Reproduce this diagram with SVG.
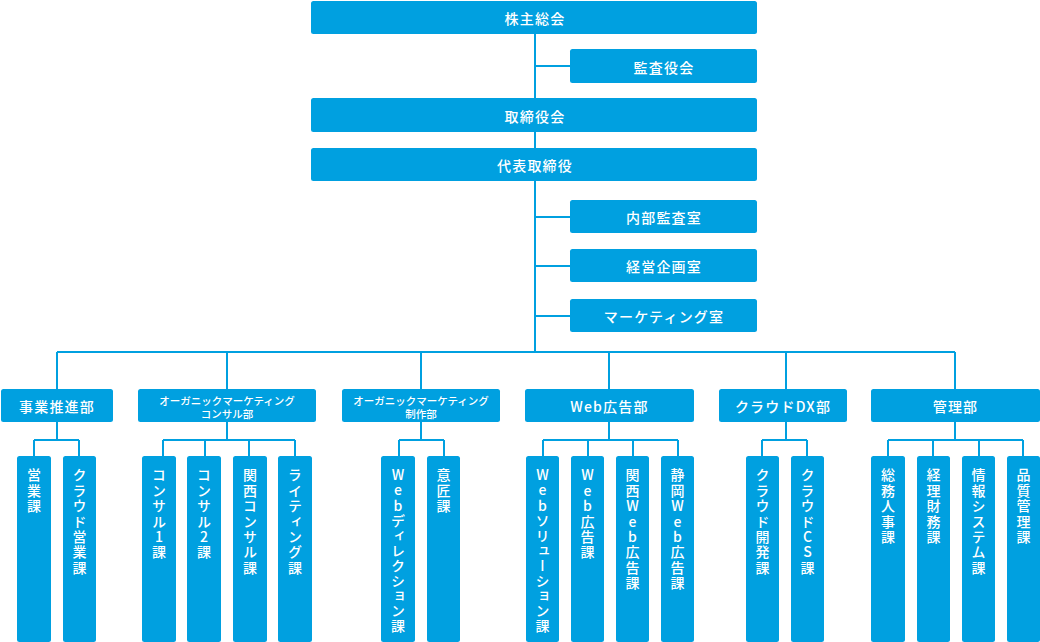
<svg xmlns="http://www.w3.org/2000/svg" width="1040" height="642" viewBox="0 0 1040 642">
<style>
.box{fill:#00a0e0}
.ln{stroke:#00a0e0;stroke-width:2;fill:none}
text{font-family:"Noto Sans CJK JP","Noto Sans",sans-serif;fill:#fff;font-weight:500}
.h{font-size:14px;letter-spacing:1.2px;text-anchor:middle;dominant-baseline:central}
.s{font-size:10.5px;text-anchor:middle;dominant-baseline:central}
.v{font-size:14px;letter-spacing:1.4px;writing-mode:vertical-rl;text-orientation:upright;text-anchor:start}
</style>
<rect width="1040" height="642" fill="#fff"/>
<g id="connectors" class="ln">
<path d="M535 34V352M535 66H570M535 217H570M535 266H570M535 316H570"/>
<path d="M57 352H955M57 352V389M227 352V389M421 352V389M609 352V389M786 352V389M955 352V389"/>
<path d="M57 422V440M34 440H79M34 440V456M79 440V456"/>
<path d="M227 422V440M163 440H295M163 440V456M205 440V456M249 440V456M295 440V456"/>
<path d="M421 422V440M399 440H444M399 440V456M444 440V456"/>
<path d="M609 422V440M543 440H678M543 440V456M588 440V456M633 440V456M678 440V456"/>
<path d="M786 422V440M762 440H807M762 440V456M807 440V456"/>
<path d="M955 422V440M888 440H1023M888 440V456M933 440V456M979 440V456M1023 440V456"/>
</g>
<g id="n-kabunushi"><rect class="box" x="311" y="1" width="446" height="33" rx="2.5"/><text class="h" x="535" y="18">株主総会</text></g>
<g id="n-kansayaku"><rect class="box" x="570" y="49" width="187" height="34" rx="2.5"/><text class="h" x="664" y="66.5">監査役会</text></g>
<g id="n-torishimariyaku"><rect class="box" x="311" y="98" width="446" height="34" rx="2.5"/><text class="h" x="535" y="115.5">取締役会</text></g>
<g id="n-daihyo"><rect class="box" x="311" y="148" width="446" height="33" rx="2.5"/><text class="h" x="535" y="165">代表取締役</text></g>
<g id="n-naibu"><rect class="box" x="570" y="200" width="187" height="33" rx="2.5"/><text class="h" x="664" y="217">内部監査室</text></g>
<g id="n-keiei"><rect class="box" x="570" y="249" width="187" height="33" rx="2.5"/><text class="h" x="664" y="266">経営企画室</text></g>
<g id="n-marketing"><rect class="box" x="570" y="299" width="187" height="33" rx="2.5"/><text class="h" x="664" y="316">マーケティング室</text></g>

<g id="d-jigyo"><rect class="box" x="1" y="389" width="112" height="33" rx="2.5"/><text class="h" x="57" y="406">事業推進部</text></g>
<g id="d-consul"><rect class="box" x="138" y="389" width="178" height="33" rx="2.5"/><text class="s" x="227" y="400">オーガニックマーケティング<tspan x="227" dy="12.5">コンサル部</tspan></text></g>
<g id="d-seisaku"><rect class="box" x="342" y="389" width="158" height="33" rx="2.5"/><text class="s" x="421" y="400">オーガニックマーケティング<tspan x="421" dy="12.5">制作部</tspan></text></g>
<g id="d-web"><rect class="box" x="525" y="389" width="169" height="33" rx="2.5"/><text class="h" x="609.5" y="406">Web広告部</text></g>
<g id="d-dx"><rect class="box" x="719" y="389" width="128" height="33" rx="2.5"/><text class="h" x="783" y="406">クラウドDX部</text></g>
<g id="d-kanri"><rect class="box" x="871" y="389" width="169" height="33" rx="2.5"/><text class="h" x="955.5" y="406">管理部</text></g>

<g id="c-eigyo"><rect class="box" x="17" y="456" width="34" height="186" rx="2.5"/><text class="v" x="34" y="468">営業課</text></g>
<g id="c-cloud-eigyo"><rect class="box" x="63" y="456" width="33" height="186" rx="2.5"/><text class="v" x="79.5" y="468">クラウド営業課</text></g>
<g id="c-consul1"><rect class="box" x="142" y="456" width="34" height="186" rx="2.5"/><text class="v" x="159" y="468">コンサル1課</text></g>
<g id="c-consul2"><rect class="box" x="187" y="456" width="34" height="186" rx="2.5"/><text class="v" x="204" y="468">コンサル2課</text></g>
<g id="c-kansai-consul"><rect class="box" x="233" y="456" width="34" height="186" rx="2.5"/><text class="v" x="250" y="468">関西コンサル課</text></g>
<g id="c-writing"><rect class="box" x="278" y="456" width="34" height="186" rx="2.5"/><text class="v" x="295" y="468">ライティング課</text></g>
<g id="c-web-direction"><rect class="box" x="381" y="456" width="34" height="186" rx="2.5"/><text class="v" x="398" y="468" style="letter-spacing:1.1px">Webディレクション課</text></g>
<g id="c-isho"><rect class="box" x="427" y="456" width="33" height="186" rx="2.5"/><text class="v" x="443.5" y="468">意匠課</text></g>
<g id="c-web-solution"><rect class="box" x="526" y="456" width="33" height="186" rx="2.5"/><text class="v" x="542.5" y="468" style="letter-spacing:1.1px">Webソリューション課</text></g>
<g id="c-web-kokoku"><rect class="box" x="571" y="456" width="33" height="186" rx="2.5"/><text class="v" x="587.5" y="468">Web広告課</text></g>
<g id="c-kansai-web"><rect class="box" x="616" y="456" width="33" height="186" rx="2.5"/><text class="v" x="632.5" y="468">関西Web広告課</text></g>
<g id="c-shizuoka-web"><rect class="box" x="661" y="456" width="33" height="186" rx="2.5"/><text class="v" x="677.5" y="468">静岡Web広告課</text></g>
<g id="c-cloud-dev"><rect class="box" x="746" y="456" width="33" height="186" rx="2.5"/><text class="v" x="762.5" y="468">クラウド開発課</text></g>
<g id="c-cloud-cs"><rect class="box" x="791" y="456" width="33" height="186" rx="2.5"/><text class="v" x="807.5" y="468">クラウドCS課</text></g>
<g id="c-somu"><rect class="box" x="871" y="456" width="34" height="186" rx="2.5"/><text class="v" x="888" y="468">総務人事課</text></g>
<g id="c-keiri"><rect class="box" x="917" y="456" width="33" height="186" rx="2.5"/><text class="v" x="933.5" y="468">経理財務課</text></g>
<g id="c-joho"><rect class="box" x="962" y="456" width="33" height="186" rx="2.5"/><text class="v" x="978.5" y="468">情報システム課</text></g>
<g id="c-hinshitsu"><rect class="box" x="1007" y="456" width="33" height="186" rx="2.5"/><text class="v" x="1023.5" y="468">品質管理課</text></g>
</svg>
